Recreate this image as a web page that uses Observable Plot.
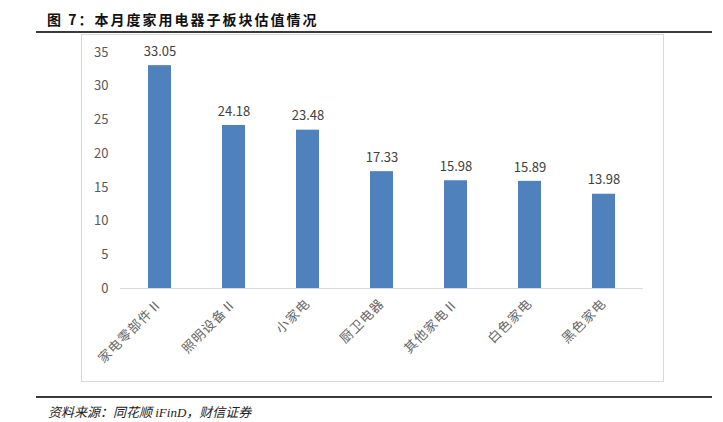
<!DOCTYPE html>
<html>
<head>
<meta charset="utf-8">
<script src="https://cdn.jsdelivr.net/npm/d3@7"></script>
<script src="https://cdn.jsdelivr.net/npm/@observablehq/plot@0.6"></script>
<style>
  body { margin: 0; background: #fff; width: 723px; height: 422px; position: relative; overflow: hidden; }
  #title { position: absolute; left: 47px; top: 9px; font: bold 14px "Noto Sans CJK SC", sans-serif; letter-spacing: 2px; color: #111; white-space: nowrap; }
  .rule { position: absolute; left: 36px; width: 676px; height: 2px; background: #3a3a3a; }
  #chartbox { position: absolute; left: 82px; top: 35px; width: 581px; height: 346px; outline: 1px solid #d9d9d9; }
  #chartbox svg { display: block; }
  #chartbox g[aria-label="x-axis tick label"] text { letter-spacing: 1px; }
  #caption { position: absolute; left: 48px; top: 402px; font: italic 13px "Liberation Serif", "Noto Sans CJK SC", serif; color: #222; white-space: nowrap; }
</style>
</head>
<body>
<div id="title">图 7：本月度家用电器子板块估值情况</div>
<div id="chartbox"></div>
<div class="rule" style="top:31px"></div>
<div class="rule" style="top:396px"></div>
<div id="caption">资料来源：同花顺 iFinD，财信证券</div>
<script>
const categories = ["家电零部件Ⅱ", "照明设备Ⅱ", "小家电", "厨卫电器", "其他家电Ⅱ", "白色家电", "黑色家电"];
const values = [33.05, 24.18, 23.48, 17.33, 15.98, 15.89, 13.98];
const yTicks = [0, 5, 10, 15, 20, 25, 30, 35];

const data = categories.map((c, i) => ({category: c, value: values[i]}));

const chart = Plot.plot({
  width: 581,
  height: 346,
  marginTop: 17,
  marginBottom: 93,
  marginLeft: 38,
  marginRight: 20,
  style: {fontFamily: "'Noto Sans CJK SC', sans-serif", fontSize: "13px", color: "#595959", background: "transparent"},
  x: {domain: categories, paddingInner: 0.69, paddingOuter: 0.345, label: null},
  y: {domain: [0, 35], label: null},
  marks: [
    Plot.axisY({ticks: yTicks, tickSize: 0, tickPadding: 12, fontSize: 13, fill: "#595959", label: null}),
    Plot.axisX({tickSize: 0, tickPadding: 13, tickRotate: -45, fontSize: 13, fill: "#666666", label: null}),
    Plot.barY(data, {x: "category", y: "value", fill: "#4F81BD"}),
    Plot.ruleY([0], {stroke: "#d9d9d9", strokeWidth: 1}),
    Plot.text(data, {x: "category", y: "value", text: d => d.value.toFixed(2), dy: -14, fontSize: 13, fill: "#404040"})
  ]
});
document.getElementById("chartbox").appendChild(chart);
</script>
</body>
</html>
